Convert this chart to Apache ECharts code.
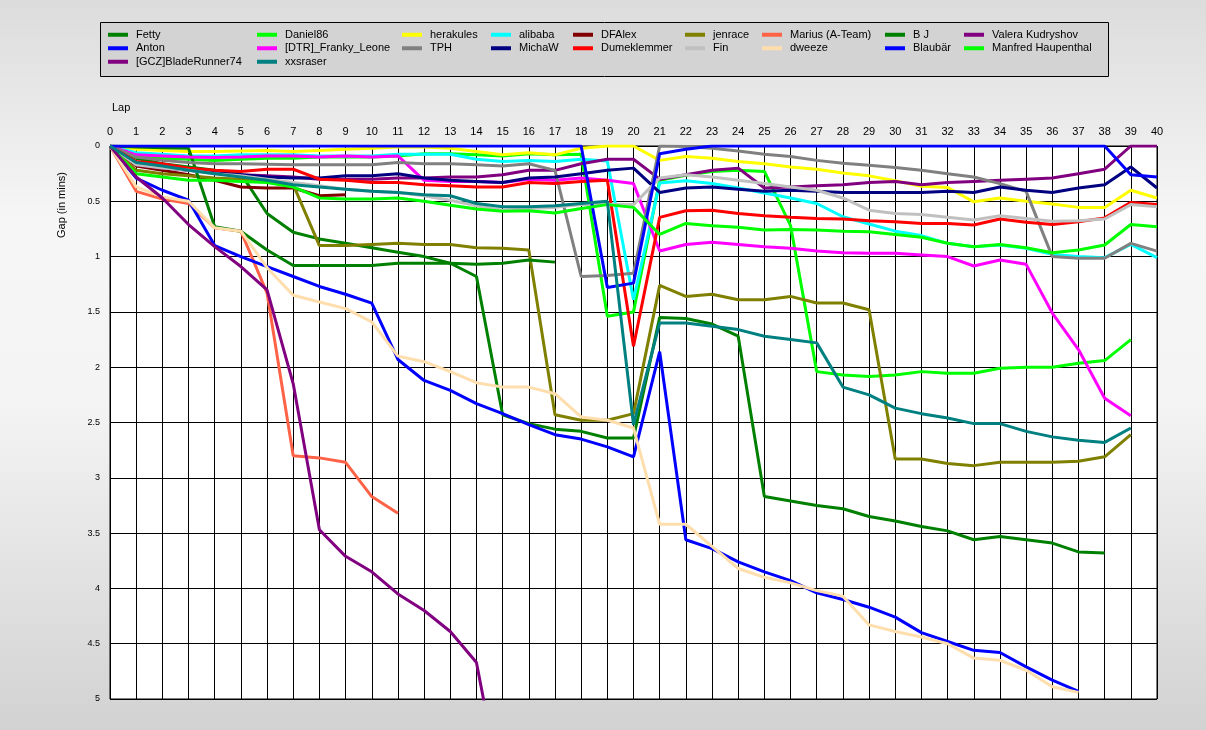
<!DOCTYPE html>
<html>
<head>
<meta charset="utf-8">
<script src="https://cdn.jsdelivr.net/npm/echarts@6/dist/echarts.min.js"></script>
<style>
html,body{margin:0;padding:0;}
#chart{width:1206px;height:730px;}
</style>
</head>
<body>
<div id="chart"></div>
<script>
const laps = ['0','1','2','3','4','5','6','7','8','9','10','11','12','13','14','15','16','17','18','19','20','21','22','23','24','25','26','27','28','29','30','31','32','33','34','35','36','37','38','39','40'];
const yTicks = ['0','0.5','1','1.5','2','2.5','3','3.5','4','4.5','5'];

const fetty = [0,0.11,0.16,0.19,0.22,0.25,0.61,0.78,0.84,0.88,0.92,0.96,1.0,1.06,1.18,2.43,2.51,2.56,2.58,2.64,2.64,1.55,1.56,1.61,1.72,3.17,3.21,3.25,3.28,3.35,3.39,3.44,3.48,3.56,3.53,3.56,3.59,3.67,3.68,null,null];
const daniel86 = [0,0.10,0.11,0.12,0.13,0.12,0.11,0.11,0.10,0.10,0.10,0.09,0.07,0.07,0.08,0.09,0.07,0.08,0.075,1.54,1.50,0.31,0.265,0.23,0.22,0.23,0.72,2.04,2.07,2.085,2.07,2.04,2.055,2.055,2.01,2.0,2.0,1.965,1.94,1.75,null];
const herakules = [0,0.03,0.04,0.05,0.05,0.045,0.04,0.05,0.04,0.03,0.02,0.01,0.01,0.02,0.05,0.08,0.06,0.08,0.02,0,0,0.13,0.095,0.11,0.14,0.16,0.19,0.21,0.245,0.27,0.315,0.365,0.375,0.505,0.47,0.5,0.525,0.555,0.555,0.40,0.47];
const alibaba = [0,0.06,0.075,0.09,0.09,0.08,0.08,0.08,0.09,0.09,0.09,0.075,0.075,0.075,0.12,0.14,0.13,0.14,0.12,0.135,1.39,0.335,0.315,0.34,0.38,0.425,0.47,0.52,0.64,0.705,0.77,0.81,0.88,0.91,0.895,0.925,0.98,1.0,1.01,0.89,1.01];
const dfalex = [0,0.18,0.22,0.26,0.31,0.37,0.38,0.38,0.45,0.44,null,null,null,null,null,null,null,null,null,null,null,null,null,null,null,null,null,null,null,null,null,null,null,null,null,null,null,null,null,null,null];
const jenrace = [0,0.22,0.25,0.27,0.29,0.30,0.31,0.35,0.90,0.90,0.89,0.88,0.89,0.89,0.92,0.925,0.94,2.43,2.48,2.48,2.42,1.26,1.36,1.34,1.39,1.39,1.36,1.42,1.42,1.48,2.83,2.83,2.87,2.89,2.86,2.86,2.86,2.85,2.81,2.61,null];
const marius = [0,0.41,0.48,0.52,0.74,0.77,1.33,2.80,2.82,2.86,3.17,3.32,null,null,null,null,null,null,null,null,null,null,null,null,null,null,null,null,null,null,null,null,null,null,null,null,null,null,null,null,null];
const bj = [0,0.01,0.015,0.02,0.73,0.77,0.94,1.08,1.08,1.08,1.08,1.06,1.06,1.06,1.07,1.06,1.03,1.05,null,null,null,null,null,null,null,null,null,null,null,null,null,null,null,null,null,null,null,null,null,null,null];
const valera = [0,0.17,0.20,0.22,0.24,0.26,0.27,0.28,0.30,0.30,0.30,0.29,0.29,0.28,0.28,0.26,0.22,0.22,0.16,0.12,0.12,0.30,0.26,0.22,0.20,0.38,0.37,0.36,0.35,0.33,0.32,0.35,0.33,0.32,0.31,0.30,0.29,0.25,0.21,0,0];
const anton = [0,0.29,0.40,0.49,0.90,1.0,1.09,1.18,1.27,1.34,1.42,1.93,2.12,2.21,2.33,2.42,2.52,2.61,2.65,2.72,2.81,1.86,3.56,3.64,3.76,3.85,3.93,4.04,4.10,4.17,4.26,4.40,4.48,4.56,4.58,4.71,4.83,4.93,null,null,null];
const franky = [0,0.08,0.09,0.10,0.105,0.10,0.09,0.09,0.10,0.09,0.10,0.09,0.31,0.32,0.32,0.33,0.30,0.31,0.29,0.31,0.34,0.95,0.89,0.87,0.89,0.91,0.925,0.95,0.965,0.97,0.97,0.985,1.0,1.085,1.03,1.07,1.51,1.84,2.28,2.44,null];
const tph = [0,0.10,0.13,0.15,0.16,0.16,0.165,0.17,0.17,0.17,0.17,0.15,0.16,0.16,0.17,0.18,0.16,0.22,1.18,1.17,1.15,0,0.005,0.02,0.045,0.075,0.095,0.13,0.155,0.175,0.195,0.22,0.25,0.28,0.34,0.41,1.0,1.015,1.015,0.88,0.95];
const michaw = [0,0.16,0.19,0.22,0.24,0.26,0.28,0.29,0.29,0.27,0.27,0.25,0.29,0.31,0.32,0.33,0.29,0.28,0.25,0.22,0.20,0.42,0.38,0.37,0.39,0.41,0.40,0.41,0.42,0.42,0.42,0.42,0.41,0.42,0.37,0.40,0.42,0.38,0.35,0.19,0.38];
const dumeklemmer = [0,0.14,0.16,0.20,0.22,0.23,0.21,0.21,0.30,0.31,0.33,0.33,0.35,0.36,0.37,0.37,0.33,0.34,0.32,0.31,1.81,0.645,0.585,0.58,0.61,0.63,0.645,0.655,0.66,0.675,0.685,0.70,0.70,0.715,0.66,0.69,0.71,0.685,0.65,0.51,0.53];
const fin = [0,0.17,0.20,0.22,0.25,0.27,0.30,0.33,0.36,0.39,0.41,0.42,0.45,0.49,0.54,0.58,0.565,0.555,0.53,0.53,0.53,0.29,0.26,0.28,0.31,0.34,0.37,0.40,0.47,0.58,0.61,0.62,0.645,0.67,0.63,0.655,0.68,0.675,0.66,0.53,0.55];
const dweeze = [0,0.37,0.46,0.50,0.74,0.77,1.10,1.35,1.41,1.47,1.59,1.90,1.95,2.04,2.14,2.18,2.18,2.24,2.45,2.48,2.55,3.42,3.42,3.62,3.82,3.90,3.95,4.02,4.07,4.33,4.39,4.44,4.50,4.63,4.65,4.74,4.89,4.94,null,null,null];
const blaubar = [0,0,0,0,0,0,0,0,0,0,0,0,0,0,0,0,0,0,0,1.28,1.24,0.07,0.03,0,0,0,0,0,0,0,0,0,0,0,0,0,0,0,0,0.26,0.28];
const manfred = [0,0.25,0.28,0.31,0.31,0.32,0.33,0.37,0.47,0.48,0.48,0.47,0.50,0.535,0.57,0.59,0.585,0.605,0.565,0.53,0.555,0.80,0.70,0.72,0.735,0.76,0.755,0.76,0.77,0.775,0.80,0.825,0.88,0.91,0.89,0.92,0.965,0.94,0.895,0.71,0.73];
const bladerunner = [0,0.28,0.47,0.71,0.91,1.09,1.30,2.15,3.47,3.71,3.85,4.05,4.20,4.39,4.67,5.9,null,null,null,null,null,null,null,null,null,null,null,null,null,null,null,null,null,null,null,null,null,null,null,null,null];
const xxsraser = [0,0.15,0.18,0.22,0.25,0.28,0.31,0.35,0.37,0.39,0.41,0.42,0.44,0.45,0.52,0.55,0.55,0.54,0.52,0.50,2.52,1.60,1.60,1.63,1.66,1.72,1.75,1.78,2.18,2.25,2.37,2.42,2.46,2.51,2.51,2.58,2.63,2.66,2.68,2.55,null];

const drivers = [
  ['Fetty', fetty, '#008000'],
  ['Daniel86', daniel86, '#00FF00'],
  ['herakules', herakules, '#FFFF00'],
  ['alibaba', alibaba, '#00FFFF'],
  ['DFAlex', dfalex, '#800000'],
  ['jenrace', jenrace, '#808000'],
  ['Marius (A-Team)', marius, '#FF6347'],
  ['B J', bj, '#008000'],
  ['Valera Kudryshov', valera, '#800080'],
  ['Anton', anton, '#0000FF'],
  ['[DTR]_Franky_Leone', franky, '#FF00FF'],
  ['TPH', tph, '#808080'],
  ['MichaW', michaw, '#000080'],
  ['Dumeklemmer', dumeklemmer, '#FF0000'],
  ['Fin', fin, '#C0C0C0'],
  ['dweeze', dweeze, '#FFDEAD'],
  ['Blaubär', blaubar, '#0000FF'],
  ['Manfred Haupenthal', manfred, '#00FF00'],
  ['[GCZ]BladeRunner74', bladerunner, '#800080'],
  ['xxsraser', xxsraser, '#008080']
];

const legendCols = [
  ['Fetty','Anton','[GCZ]BladeRunner74'],
  ['Daniel86','[DTR]_Franky_Leone','xxsraser'],
  ['herakules','TPH'],
  ['alibaba','MichaW'],
  ['DFAlex','Dumeklemmer'],
  ['jenrace','Fin'],
  ['Marius (A-Team)','dweeze'],
  ['B J','Blaubär'],
  ['Valera Kudryshov','Manfred Haupenthal']
];
const legendLeft = [108,257,402,491,573,685,762,885,964];

const FONT = '"Liberation Sans", Arial, sans-serif';

const chart = echarts.init(document.getElementById('chart'));
const option = {
  animation: false,
  backgroundColor: {
    type: 'linear', x: 0, y: 0, x2: 0, y2: 1,
    colorStops: [
      {offset: 0, color: '#dcdcdc'},
      {offset: 0.3, color: '#f6f6f6'},
      {offset: 0.55, color: '#f4f4f4'},
      {offset: 1, color: '#d2d2d2'}
    ]
  },
  graphic: [
    {type: 'rect', left: 100, top: 22, shape: {width: 1008, height: 54},
     style: {fill: '#d3d3d3', stroke: '#000', lineWidth: 1}, z: 0},
    {type: 'text', left: 112, top: 102, style: {text: 'Lap', font: '11px ' + FONT, fill: '#000'}},
    {type: 'text', x: 62, y: 205, rotation: Math.PI / 2,
     style: {text: 'Gap (in mins)', font: '11px ' + FONT, fill: '#000', align: 'center', verticalAlign: 'middle'}}
  ],
  legend: legendCols.map((col, i) => ({
    data: col,
    orient: 'vertical',
    left: legendLeft[i],
    top: 28,
    padding: 0,
    itemGap: 0,
    itemWidth: 20,
    itemHeight: 4,
    icon: 'rect',
    selectedMode: false,
    textStyle: {fontFamily: FONT, fontSize: 11, color: '#000', lineHeight: 13.5, padding: [0, 0, 0, 3]}
  })),
  grid: {left: 110, top: 146, right: 49, bottom: 31, show: true, backgroundColor: '#fff', borderColor: '#000', borderWidth: 1},
  xAxis: {
    type: 'category', data: laps, boundaryGap: false, position: 'top',
    axisLine: {show: true, lineStyle: {color: '#000'}},
    axisTick: {show: false},
    axisLabel: {interval: 0, fontFamily: FONT, fontSize: 11, color: '#000', margin: 9},
    splitLine: {show: true, interval: 0, lineStyle: {color: '#000', width: 1}}
  },
  yAxis: {
    type: 'value', inverse: true, min: 0, max: 5, interval: 0.5,
    axisLine: {show: true, lineStyle: {color: '#000'}},
    axisTick: {show: false},
    axisLabel: {fontFamily: FONT, fontSize: 9, color: '#000', margin: 10,
      formatter: (v) => yTicks[Math.round(v * 2)]},
    splitLine: {show: true, lineStyle: {color: '#000', width: 1}}
  },
  series: drivers.map(d => ({
    name: d[0], type: 'line', data: d[1], showSymbol: false, symbol: 'none',
    color: d[2], lineStyle: {width: 3, color: d[2]}, connectNulls: false, clip: true
  }))
};
chart.setOption(option);
</script>
</body>
</html>
